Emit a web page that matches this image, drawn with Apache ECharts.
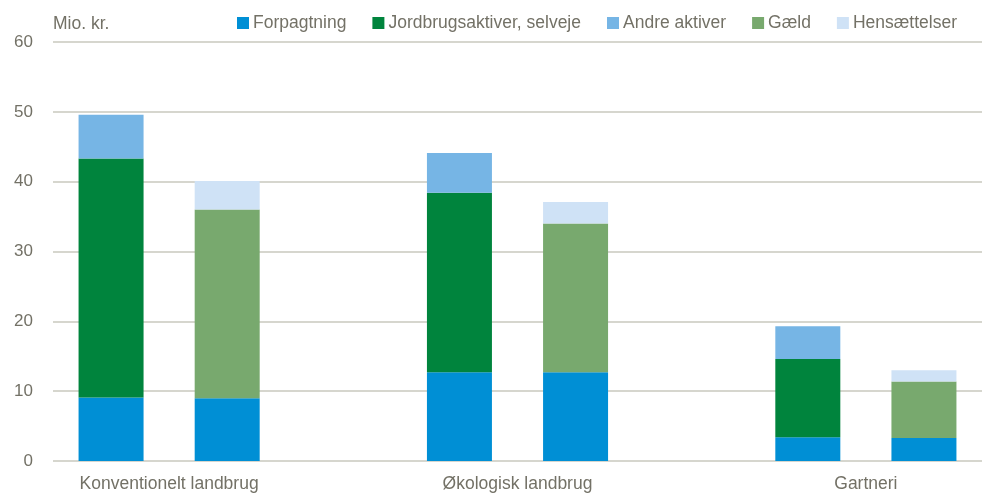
<!DOCTYPE html>
<html>
<head>
<meta charset="utf-8">
<script src="https://cdn.jsdelivr.net/npm/echarts@6/dist/echarts.min.js"></script>
<style>html,body{margin:0;padding:0;background:#fff}#c{width:987px;height:495px}</style>
</head>
<body>
<div id="c"></div>
<script>
const groups = ['Konventionelt landbrug', 'Økologisk landbrug', 'Gartneri'];
const seriesNames = ['Forpagtning', 'Jordbrugsaktiver, selveje', 'Andre aktiver', 'Gæld', 'Hensættelser'];
// Aktiver (left bar of each group)
const forpagtningAktiver = [9.1, 12.7, 3.4];
const jordbrugsaktiver = [34.2, 25.7, 11.2];
const andreAktiver = [6.3, 5.7, 4.7];
// Passiver (right bar of each group)
const forpagtningPassiver = [9.0, 12.7, 3.3];
const gaeld = [27.0, 21.3, 8.1];
const hensaettelser = [4.1, 3.1, 1.6];
const yTicks = [0, 10, 20, 30, 40, 50, 60];

const colors = {
  'Forpagtning': '#008FD5',
  'Jordbrugsaktiver, selveje': '#00843D',
  'Andre aktiver': '#76B5E5',
  'Gæld': '#78A96E',
  'Hensættelser': '#CFE2F6'
};
const FONT = '"Liberation Sans", Arial, sans-serif';
const TXT = '#737166';

// 8 slots: per group [aktiver, passiver, gap]; last group without gap
const SLOTS = 8;
const slotsA = groups.map((g, i) => 3 * i);
const slotsP = groups.map((g, i) => 3 * i + 1);
function slotData(aVals, pVals) {
  const d = new Array(SLOTS).fill('-');
  if (aVals) aVals.forEach((v, i) => { d[slotsA[i]] = v; });
  if (pVals) pVals.forEach((v, i) => { d[slotsP[i]] = v; });
  return d;
}
function bar(name, data) {
  return {
    name: name, type: 'bar', stack: 'total', barWidth: 65, xAxisIndex: 0,
    itemStyle: { color: colors[name] },
    emphasis: { disabled: true },
    data: data
  };
}

const chart = echarts.init(document.getElementById('c'), null, { renderer: 'canvas' });
chart.setOption({
  animation: false,
  textStyle: { fontFamily: FONT },
  grid: { left: 53, right: 5, top: 42, bottom: 34, containLabel: false },
  legend: {
    data: seriesNames,
    left: 232, top: 9,
    itemWidth: 12, itemHeight: 12, itemGap: 26,
    icon: 'rect',
    textStyle: { fontFamily: FONT, fontSize: 17.5, color: TXT, padding: [0, 0, 0, -1] }
  },
  xAxis: [
    {
      type: 'category', data: new Array(SLOTS).fill(''),
      axisLine: { show: false }, axisTick: { show: false }, axisLabel: { show: false },
      splitLine: { show: false }
    },
    {
      // group labels, centred between the two bars of each group
      type: 'value', min: 0, max: SLOTS, interval: 1, position: 'bottom',
      axisLine: { show: false }, axisTick: { show: false }, splitLine: { show: false },
      axisLabel: {
        margin: 14, fontSize: 17.5, color: TXT, fontFamily: FONT,
        showMinLabel: true, showMaxLabel: true,
        formatter: function (v) {
          const idx = (v - 1) / 3;
          return Number.isInteger(idx) && groups[idx] ? groups[idx] : '';
        }
      }
    }
  ],
  yAxis: {
    type: 'value', min: yTicks[0], max: yTicks[yTicks.length - 1], interval: 10,
    name: 'Mio. kr.', nameLocation: 'end', nameGap: 9,
    nameTextStyle: { align: 'left', verticalAlign: 'bottom', fontSize: 17.5, color: TXT, fontFamily: FONT },
    axisLine: { show: false }, axisTick: { show: false },
    axisLabel: { margin: 20, fontSize: 17, color: TXT, fontFamily: FONT },
    splitLine: { lineStyle: { color: '#C8C8BE', width: 1.5 } }
  },
  series: [
    bar('Forpagtning', slotData(forpagtningAktiver, forpagtningPassiver)),
    bar('Jordbrugsaktiver, selveje', slotData(jordbrugsaktiver, null)),
    bar('Andre aktiver', slotData(andreAktiver, null)),
    bar('Gæld', slotData(null, gaeld)),
    bar('Hensættelser', slotData(null, hensaettelser))
  ]
});
</script>
</body>
</html>
